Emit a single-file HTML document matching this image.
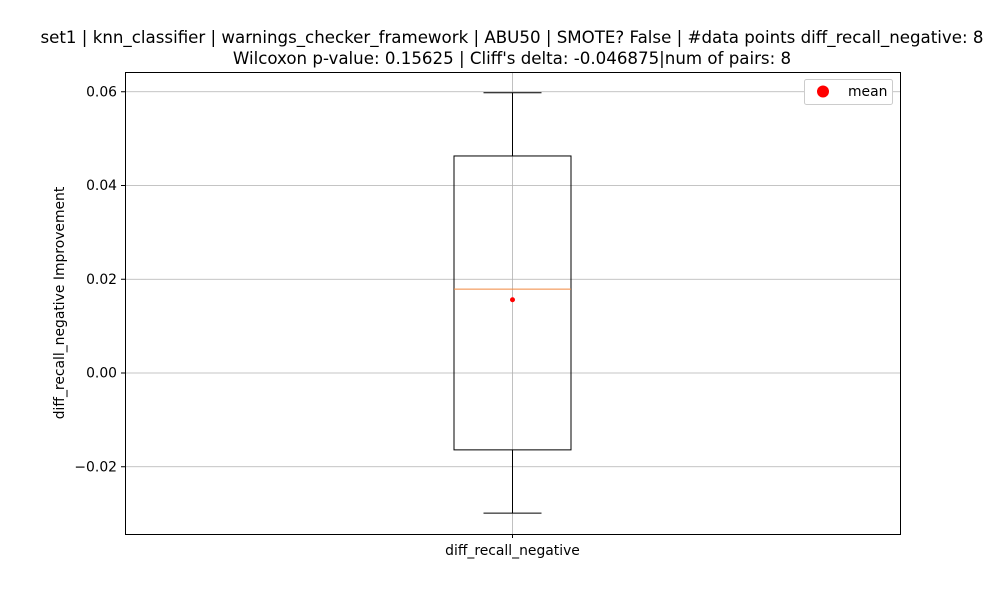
<!DOCTYPE html>
<html><head><meta charset="utf-8"><style>body{margin:0;background:#fff}svg{display:block;font-family:"DejaVu Sans","Liberation Sans",sans-serif}</style></head>
<body>
<svg id="chart" width="1000" height="600" viewBox="0 0 1000 600">
<text x="512" y="43" font-size="16.65" text-anchor="middle">set1 | knn_classifier | warnings_checker_framework | ABU50 | SMOTE? False | #data points diff_recall_negative: 8</text>
<text x="512" y="64" font-size="16.65" text-anchor="middle">Wilcoxon p-value: 0.15625 | Cliff's delta: -0.046875|num of pairs: 8</text>
<text transform="translate(64,303) rotate(-90)" font-size="13.9" text-anchor="middle">diff_recall_negative Improvement</text>
<g id="grid"></g><g id="marks"></g>
<rect x="125.5" y="72.5" width="775" height="462" fill="none" stroke="#000" stroke-width="1"/>
<g>
<rect x="804.5" y="79.5" width="88" height="25" rx="2" fill="#fff" stroke="#ccc"/>
<circle cx="823" cy="91.5" r="6" fill="red"/>
<text x="848" y="96" font-size="13.9">mean</text>
</g>
</svg>
<script>
const categories=["diff_recall_negative"];
const whiskerLow=[-0.0299];
const q1=[-0.0164];
const median=[0.0179];
const q3=[0.0463];
const whiskerHigh=[0.0598];
const means=[0.015625];
const yTicks=[-0.02,0,0.02,0.04,0.06];
const yTickLabels=["\u22120.02","0.00","0.02","0.04","0.06"];
const NS="http://www.w3.org/2000/svg";
const L=125,R=900,T=72,B=534;
function y(v){return 373-v*4687.5;}
function x(i){return L+(R-L)*(i+0.5)/categories.length;}
function mk(tag,attrs,parent){const e=document.createElementNS(NS,tag);for(const k in attrs)e.setAttribute(k,attrs[k]);parent.appendChild(e);return e;}
const grid=document.getElementById('grid'),marks=document.getElementById('marks');
yTicks.forEach((t,i)=>{
 const g=mk('line',{x1:L,x2:R,y1:y(t),y2:y(t),stroke:'#b0b0b0','stroke-width':0.8},grid);
 
 
 const tk=mk('line',{x1:L-4,x2:L,y1:y(t),y2:y(t),stroke:'#000'},grid);
 
 
 const tx=mk('text',{x:L-8,y:y(t)+4.5,'font-size':13.9,'text-anchor':'end'},grid);
 tx.textContent=yTickLabels[i];
 
 
});
categories.forEach((c,i)=>{
 const cx=x(i),hw=58.5,cw=29;
 const vg=mk('line',{x1:cx,x2:cx,y1:T,y2:B,stroke:'#b0b0b0','stroke-width':0.8},grid);
 
 
 const xt=mk('line',{x1:cx,x2:cx,y1:B,y2:B+4,stroke:'#000'},grid);
 
 
 const xl=mk('text',{x:cx,y:B+21,'font-size':13.9,'text-anchor':'middle'},grid);
 xl.textContent=c;
 
 
 const w1=mk('line',{x1:cx,x2:cx,y1:y(q3[i]),y2:y(whiskerHigh[i]),stroke:'#000'},marks);
 
 
 const w2=mk('line',{x1:cx,x2:cx,y1:y(q1[i]),y2:y(whiskerLow[i]),stroke:'#000'},marks);
 
 
 const c1=mk('line',{x1:cx-cw,x2:cx+cw,y1:y(whiskerHigh[i]),y2:y(whiskerHigh[i]),stroke:'#000'},marks);
 
 
 const c2=mk('line',{x1:cx-cw,x2:cx+cw,y1:y(whiskerLow[i]),y2:y(whiskerLow[i]),stroke:'#000'},marks);
 
 
 const bx=mk('rect',{x:cx-hw,y:y(q3[i]),width:2*hw,height:y(q1[i])-y(q3[i]),fill:'none',stroke:'#000'},marks);
 
 
 const md=mk('line',{x1:cx-hw,x2:cx+hw,y1:y(median[i]),y2:y(median[i]),stroke:'#f0883e'},marks);
 
 
 const mn=mk('circle',{cx:cx,cy:y(means[i]),r:2.5,fill:'red'},marks);
 
 
});
</script>
</body></html>
